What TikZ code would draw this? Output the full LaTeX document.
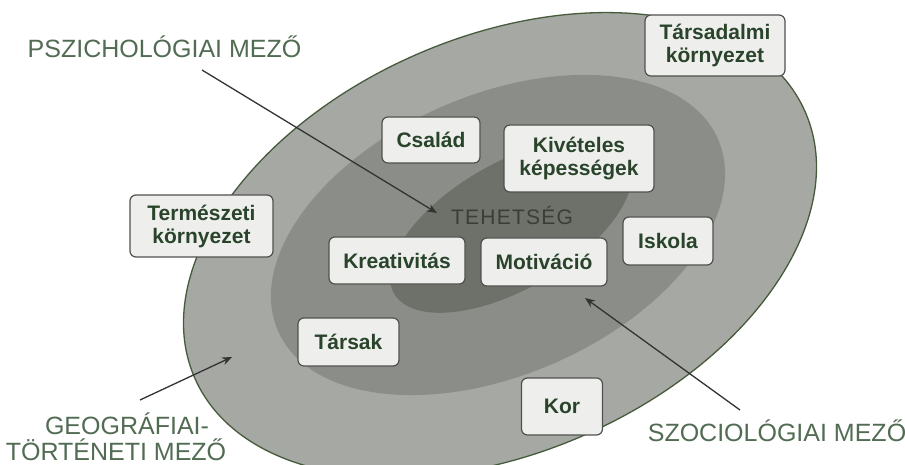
\documentclass[tikz,border=0pt]{standalone}
\usepackage{fontspec}
\setmainfont{Liberation Sans}
\usetikzlibrary{arrows.meta}
\definecolor{outerfill}{RGB}{166,168,163}
\definecolor{midfill}{RGB}{139,141,136}
\definecolor{innerfill}{RGB}{110,112,106}
\definecolor{rimgreen}{RGB}{70,90,60}
\definecolor{boxtext}{RGB}{42,68,44}
\definecolor{fieldtext}{RGB}{82,108,84}
\definecolor{boxfill}{RGB}{238,238,236}
\definecolor{boxline}{RGB}{80,82,78}
\definecolor{arrowcol}{RGB}{50,52,50}
\definecolor{coretext}{RGB}{58,62,56}
\begin{document}
\begin{tikzpicture}[x=1pt,y=-1pt,
  factor/.style={draw=boxline, line width=1.2pt, fill=boxfill, rounded corners=6pt,
    align=center, inner sep=0pt, text=boxtext,
    font=\fontsize{21pt}{23pt}\selectfont\bfseries},
  field/.style={text=fieldtext, align=center, inner sep=0pt,
    font=\fontsize{25pt}{26pt}\selectfont},
  pointer/.style={draw=arrowcol, line width=1.3pt, -{Stealth[length=10pt,width=8pt]}}]
\path[use as bounding box, fill=white] (0,0) rectangle (905,465);
\begin{scope}
  \clip (0,0) rectangle (905,465);
  \fill[outerfill, rotate around={23.5:(500,245)}] (500,245) ellipse [x radius=333pt, y radius=208pt];
  \draw[rimgreen, line width=1.3pt, rotate around={23.5:(500,245)}] (500,245) ellipse [x radius=333pt, y radius=208pt];
  \fill[midfill, rotate around={23.5:(498,235)}] (498,235) ellipse [x radius=240pt, y radius=140pt];
  \fill[innerfill, rotate around={30:(511,226)}] (511,226) ellipse [x radius=135pt, y radius=63pt];
\end{scope}

\node[text=coretext, inner sep=0pt, font=\fontsize{21pt}{23pt}\selectfont\addfontfeature{LetterSpace=6}] (core) at (512,215) {TEHETSÉG};

\node[factor, minimum width=140pt, minimum height=61pt] (tars) at (715,45.5) {Társadalmi\\környezet};
\node[factor, minimum width=98pt, minimum height=46pt] (csal) at (431,140) {Család};
\node[factor, minimum width=150pt, minimum height=67pt] (kiv) at (579,158.5) {Kivételes\\képességek};
\node[factor, minimum width=143pt, minimum height=62pt] (term) at (201.5,226) {Természeti\\környezet};
\node[factor, minimum width=136pt, minimum height=47pt] (krea) at (397,260.5) {Kreativitás};
\node[factor, minimum width=126pt, minimum height=48pt] (mot) at (544,262) {Motiváció};
\node[factor, minimum width=90pt, minimum height=48pt] (isk) at (668,241) {Iskola};
\node[factor, minimum width=101pt, minimum height=48pt] (tarsak) at (348.5,342) {Társak};
\node[factor, minimum width=81pt, minimum height=57pt] (kor) at (562,406.5) {Kor};

\node[field] (psy) at (164.5,46.5) {PSZICHOLÓGIAI MEZŐ};
\node[field] (geo) at (116,436.5) {\hspace*{22pt}GEOGRÁFIAI-\\TÖRTÉNETI MEZŐ};
\node[field] (soc) at (777,431) {SZOCIOLÓGIAI MEZŐ};

\coordinate (psyS) at (202,70);
\coordinate (psyE) at (437,213);
\coordinate (geoS) at (140,400);
\coordinate (geoE) at (232,357);
\coordinate (socS) at (740,410);
\coordinate (socE) at (585,298);
\draw[pointer] (psyS) -- (psyE);
\draw[pointer] (geoS) -- (geoE);
\draw[pointer] (socS) -- (socE);
\end{tikzpicture}
\end{document}
